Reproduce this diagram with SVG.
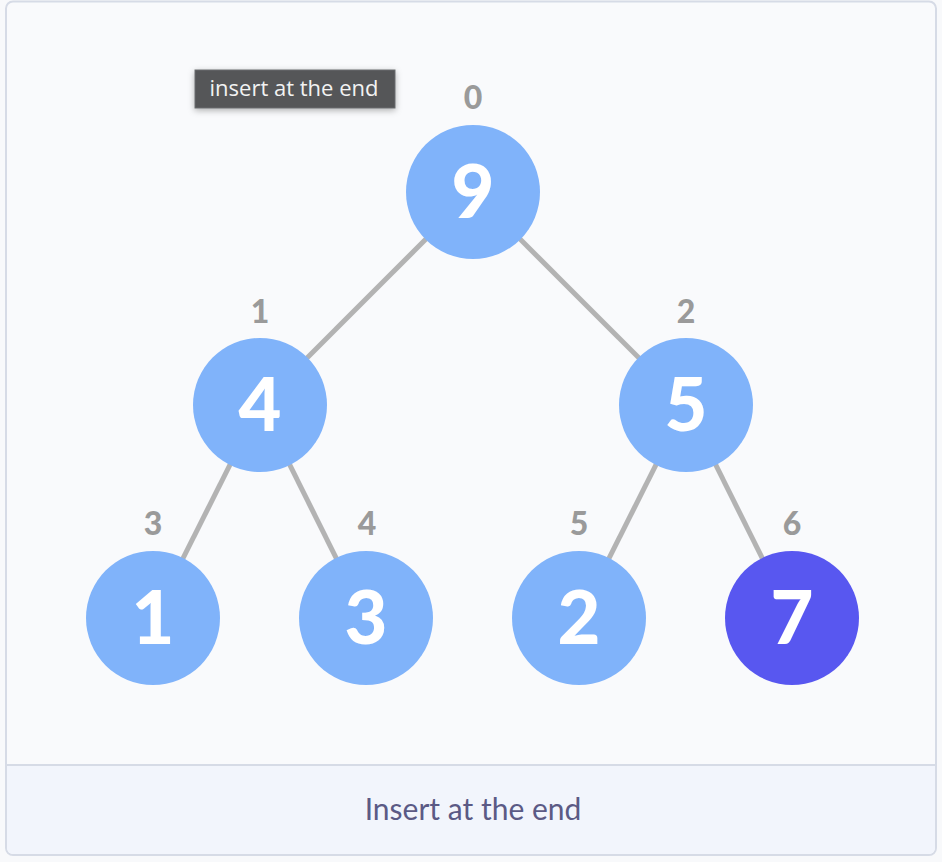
<svg xmlns="http://www.w3.org/2000/svg" width="942" height="862" viewBox="0 0 942 862">
<defs>
<style>
.node{fill:#80b3fa}
.hl{fill:#5857f0}
.val{font-family:Lato,"Open Sans",sans-serif;font-weight:900;font-size:74px;fill:#fff;text-anchor:middle}
.idx{font-family:Lato,"Open Sans",sans-serif;font-weight:900;font-size:32px;fill:#9a9a9a;text-anchor:middle}
.edge{stroke:#b3b3b3;stroke-width:5}
</style>
<filter id="sh" x="-20%" y="-40%" width="140%" height="200%">
<feDropShadow dx="0" dy="2" stdDeviation="3" flood-color="#000" flood-opacity="0.3"/>
</filter>
</defs>
<rect x="0" y="0" width="942" height="862" fill="#f8f9fb"/>
<rect x="6" y="1.5" width="930" height="853.5" rx="7" fill="#f9fafc" stroke="#d6dbe6" stroke-width="2"/>
<path d="M7 765 H935 V848 a6 6 0 0 1 -6 6 H13 a6 6 0 0 1 -6 -6 Z" fill="#f2f5fc"/>
<line x1="7" y1="765" x2="935" y2="765" stroke="#d6dbe6" stroke-width="2"/>
<text x="473" y="820" font-family="Lato,'Open Sans',sans-serif" font-size="30" fill="#5b5a85" text-anchor="middle">Insert at the end</text>
<g id="connectors">
<line class="edge" x1="473" y1="192" x2="260" y2="405"/>
<line class="edge" x1="473" y1="192" x2="686" y2="405"/>
<line class="edge" x1="260" y1="405" x2="153" y2="618"/>
<line class="edge" x1="260" y1="405" x2="366" y2="618"/>
<line class="edge" x1="686" y1="405" x2="579" y2="618"/>
<line class="edge" x1="686" y1="405" x2="792" y2="618"/>
</g>
<g id="n0"><text class="idx" x="473" y="109">0</text><circle class="node" cx="473" cy="192" r="67"/><text class="val" x="473" y="218">9</text></g>
<g id="n1"><text class="idx" x="260" y="323">1</text><circle class="node" cx="260" cy="405" r="67"/><text class="val" x="260" y="431">4</text></g>
<g id="n2"><text class="idx" x="686" y="323">2</text><circle class="node" cx="686" cy="405" r="67"/><text class="val" x="686" y="431">5</text></g>
<g id="n3"><text class="idx" x="153" y="535">3</text><circle class="node" cx="153" cy="618" r="67"/><text class="val" x="153" y="644">1</text></g>
<g id="n4"><text class="idx" x="367" y="535">4</text><circle class="node" cx="366" cy="618" r="67"/><text class="val" x="366" y="644">3</text></g>
<g id="n5"><text class="idx" x="579" y="535">5</text><circle class="node" cx="579" cy="618" r="67"/><text class="val" x="579" y="644">2</text></g>
<g id="n6"><text class="idx" x="792" y="535">6</text><circle class="hl" cx="792" cy="618" r="67"/><text class="val" x="792" y="644">7</text></g>
<g id="tooltip">
<rect x="195" y="70" width="200" height="38" fill="#555759" stroke="#6a6c6e" stroke-width="1" filter="url(#sh)"/>
<text x="294" y="96" font-family="'Open Sans','Noto Sans',sans-serif" font-size="22" fill="#f2f2f2" text-anchor="middle">insert at the end</text>
</g>
</svg>
